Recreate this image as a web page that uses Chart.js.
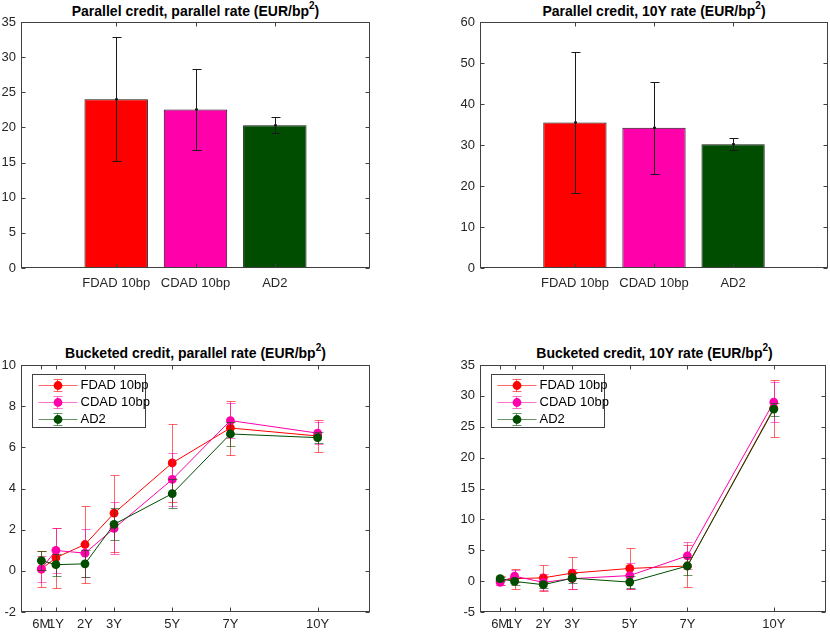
<!DOCTYPE html>
<html><head><meta charset="utf-8">
<script src="https://cdn.jsdelivr.net/npm/chart.js@4.4.1/dist/chart.umd.min.js"></script>
<style>
html,body{margin:0;padding:0;background:#fff;width:830px;height:632px;overflow:hidden}
canvas{position:absolute}
.t{position:absolute;font:bold 14px "Liberation Sans",Arial,sans-serif;color:#000;text-align:center;height:22px;line-height:22px;white-space:nowrap}
.t sup{font-size:10px;line-height:0;position:relative;top:-1px}
</style></head><body>
<div class="t" style="left:21px;top:0;width:349px">Parallel credit, parallel rate (EUR/bp<sup>2</sup>)</div>
<div class="t" style="left:480px;top:0;width:348px">Parallel credit, 10Y rate (EUR/bp<sup>2</sup>)</div>
<div class="t" style="left:21px;top:342px;width:349px">Bucketed credit, parallel rate (EUR/bp<sup>2</sup>)</div>
<div class="t" style="left:480px;top:342px;width:349px">Bucketed credit, 10Y rate (EUR/bp<sup>2</sup>)</div>
<canvas id="c1" width="415" height="316" style="left:0;top:0"></canvas>
<canvas id="c2" width="415" height="316" style="left:415px;top:0"></canvas>
<canvas id="c3" width="415" height="316" style="left:0;top:316px"></canvas>
<canvas id="c4" width="415" height="316" style="left:415px;top:316px"></canvas>
<script>
// ---- data ----
const seriesNames = ['FDAD 10bp', 'CDAD 10bp', 'AD2'];
const seriesColors = ['#ff0000', '#ff00aa', '#004d00'];
const errColors = ['rgba(255,0,0,0.6)', 'rgba(255,0,170,0.55)', 'rgba(0,77,0,0.6)'];

const parParVals = [24.0, 22.55, 20.3];
const parParErrs = [8.8, 5.8, 1.15];
const par10Vals = [35.5, 34.2, 30.2];
const par10Errs = [17.15, 11.25, 1.45];

const tenorLabels = ['6M', '1Y', '2Y', '3Y', '5Y', '7Y', '10Y'];
const tenorYears = [0.5, 1, 2, 3, 5, 7, 10];

const bpFDAD = [0.08, 0.64, 1.28, 2.8, 5.24, 6.94, 6.55];
const bpFDADErr = [0.88, 1.45, 1.85, 1.87, 1.9, 1.33, 0.79];
const bpCDAD = [0.1, 0.99, 0.86, 2.06, 4.44, 7.3, 6.69];
const bpCDADErr = [0.64, 1.08, 1.17, 1.26, 1.28, 0.87, 0.53];
const bpAD2 = [0.5, 0.3, 0.34, 2.26, 3.75, 6.65, 6.47];
const bpAD2Err = [0.44, 0.54, 0.65, 0.78, 0.7, 0.58, 0.27];

const b10FDAD = [0.1, 0.4, 0.53, 1.3, 2.05, 2.45, 28.0];
const b10FDADErr = [0.7, 1.6, 2.07, 2.6, 3.25, 3.4, 4.6];
const b10CDAD = [-0.2, 0.8, -0.2, 0.4, 0.9, 4.1, 29.0];
const b10CDADErr = [0.5, 1.0, 1.3, 1.6, 2.1, 2.2, 3.2];
const b10AD2 = [0.4, -0.05, -0.58, 0.48, -0.16, 2.45, 27.84];
const b10AD2Err = [0.3, 0.5, 0.5, 0.8, 1.0, 1.4, 1.03];

// ---- helpers ----
const FONT = {family: '"Liberation Sans", Arial, sans-serif', size: 13};
const TICKCOL = '#262626';
const FRAME = '#404040';

function drawErr(chart, k, opts) {
  const errs = opts.errors && opts.errors[k];
  if (!errs) return;
  const meta = chart.getDatasetMeta(k);
  const ys = chart.scales.y;
  const ds = chart.data.datasets[k];
  const ctx = chart.ctx;
  ctx.save();
  ctx.strokeStyle = opts.colors[k];
  ctx.lineWidth = 1;
  meta.data.forEach((el, i) => {
    const v = ds.data[i].y, e = errs[i];
    const x = Math.round(el.x) + 0.5;
    const yh = Math.round(ys.getPixelForValue(v + e)) + 0.5;
    const yl = Math.round(ys.getPixelForValue(v - e)) + 0.5;
    ctx.beginPath();
    ctx.moveTo(x, yh); ctx.lineTo(x, yl);
    ctx.moveTo(x - opts.cap, yh); ctx.lineTo(x + opts.cap + 1, yh);
    ctx.moveTo(x - opts.cap, yl); ctx.lineTo(x + opts.cap + 1, yl);
    ctx.stroke();
    if (opts.dot) {
      ctx.fillStyle = opts.colors[k];
      ctx.fillRect(x - 1.5, ys.getPixelForValue(v) - 1, 3, 2);
    }
  });
  ctx.restore();
}
const errPlugin = {
  id: 'errbars',
  beforeDatasetDraw(chart, args, opts) { if (!opts.after) drawErr(chart, args.index, opts); },
  afterDatasetDraw(chart, args, opts) { if (opts.after) drawErr(chart, args.index, opts); }
};
const framePlugin = {
  id: 'frame',
  afterDraw(chart, args, opts) {
    const ctx = chart.ctx, ca = chart.chartArea;
    const L = Math.round(ca.left) + 0.5, R = Math.round(ca.right) - 0.5;
    const T = Math.round(ca.top) + 0.5, B = Math.round(ca.bottom) - 0.5;
    ctx.save();
    ctx.strokeStyle = FRAME; ctx.lineWidth = 1;
    ctx.beginPath();
    chart.scales.y.ticks.forEach(t => {
      const y = Math.round(chart.scales.y.getPixelForValue(t.value)) + 0.5;
      ctx.moveTo(L, y); ctx.lineTo(L + 4, y);
      ctx.moveTo(R, y); ctx.lineTo(R - 4, y);
    });
    chart.scales.x.ticks.forEach(t => {
      const x = Math.round(chart.scales.x.getPixelForValue(t.value)) + 0.5;
      ctx.moveTo(x, B); ctx.lineTo(x, B - 4);
      ctx.moveTo(x, T); ctx.lineTo(x, T + 4);
    });
    ctx.stroke();
    ctx.strokeRect(L, T, R - L, B - T);
    if (opts.legend) {
      const lx = Math.round(ca.left + 11) + 0.5, ly = Math.round(ca.top + 9) + 0.5, w = 113, h = 53;
      ctx.fillStyle = '#fff'; ctx.fillRect(lx, ly, w, h);
      ctx.strokeStyle = FRAME; ctx.strokeRect(lx, ly, w, h);
      chart.data.datasets.forEach((ds, k) => {
        const y = Math.round(ly + 10.5 + k * 17) + 0.5;
        const mx = lx + 25;
        ctx.strokeStyle = errColors[k];
        ctx.beginPath();
        ctx.moveTo(lx + 6, y); ctx.lineTo(lx + 45, y);
        ctx.moveTo(mx, y - 6); ctx.lineTo(mx, y + 6);
        ctx.moveTo(mx - 4, y - 6); ctx.lineTo(mx + 5, y - 6);
        ctx.moveTo(mx - 4, y + 6); ctx.lineTo(mx + 5, y + 6);
        ctx.stroke();
        ctx.fillStyle = ds.borderColor;
        ctx.beginPath(); ctx.arc(mx + 0.5, y, 4.4, 0, Math.PI * 2); ctx.fill();
        ctx.fillStyle = '#000';
        ctx.font = '13px "Liberation Sans", Arial, sans-serif';
        ctx.textBaseline = 'middle'; ctx.textAlign = 'left';
        ctx.fillText(ds.label, lx + 48, y);
      });
    }
    ctx.restore();
  }
};

function yAxis(min, max, step, width) {
  return {
    min: min, max: max,
    ticks: {stepSize: step, padding: 5, color: TICKCOL, font: FONT},
    grid: {display: false, drawTicks: false},
    border: {display: false},
    afterFit: s => { s.width = width; }
  };
}

function barChart(id, vals, errs, yMax, yStep, yW, padRight) {
  return new Chart(document.getElementById(id), {
    type: 'bar',
    data: {
      datasets: [{
        data: vals.map((v, i) => ({x: i + 1, y: v})),
        backgroundColor: seriesColors,
        borderColor: '#141414',
        borderWidth: 1,
        borderSkipped: false,
        barPercentage: 1,
        categoryPercentage: 0.8
      }]
    },
    options: {
      responsive: false, animation: false, devicePixelRatio: 1,
      layout: {padding: {left: 0, top: 22, right: padRight, bottom: 0}},
      plugins: {
        legend: {display: false}, tooltip: {enabled: false}, title: {display: false},
        errbars: {errors: [errs], colors: ['#1a1a1a'], cap: 4, after: true, dot: true},
        frame: {legend: false}
      },
      scales: {
        x: {
          type: 'linear', min: -0.2, max: 4.2, offset: false,
          grid: {display: false, drawTicks: false, offset: false},
          border: {display: false},
          afterBuildTicks: s => { s.ticks = seriesNames.map((_, i) => ({value: i + 1})); },
          ticks: {callback: v => seriesNames[Math.round(v) - 1], autoSkip: false, maxRotation: 0, minRotation: 0,
                  padding: 8, color: TICKCOL, font: FONT},
          afterFit: s => { s.height = 48; }
        },
        y: yAxis(0, yMax, yStep, yW)
      }
    },
    plugins: [errPlugin, framePlugin]
  });
}

function lineChart(id, vals, errs, yMin, yMax, yStep, yW, padRight) {
  return new Chart(document.getElementById(id), {
    type: 'line',
    data: {
      datasets: seriesNames.map((n, k) => ({
        label: n,
        data: tenorYears.map((x, i) => ({x: x, y: vals[k][i]})),
        borderColor: seriesColors[k],
        backgroundColor: seriesColors[k],
        pointBackgroundColor: seriesColors[k],
        borderWidth: 1,
        pointRadius: 4.4, pointBorderWidth: 0, pointHoverRadius: 4.4,
        tension: 0, fill: false,
        order: 2 - k
      }))
    },
    options: {
      responsive: false, animation: false, devicePixelRatio: 1,
      layout: {padding: {left: 0, top: 49, right: padRight, bottom: 0}},
      plugins: {
        legend: {display: false}, tooltip: {enabled: false}, title: {display: false},
        errbars: {errors: errs, colors: errColors, cap: 4, after: false},
        frame: {legend: true}
      },
      scales: {
        x: {
          type: 'linear', min: -0.2, max: 11.8,
          grid: {display: false, drawTicks: false},
          border: {display: false},
          afterBuildTicks: s => { s.ticks = tenorYears.map(v => ({value: v})); },
          ticks: {callback: v => tenorLabels[tenorYears.indexOf(v)], autoSkip: false, maxRotation: 0, minRotation: 0,
                  padding: 5, color: TICKCOL, font: FONT},
          afterFit: s => { s.height = 20; }
        },
        y: yAxis(yMin, yMax, yStep, yW)
      }
    },
    plugins: [errPlugin, framePlugin]
  });
}

barChart('c1', parParVals, parParErrs, 35, 5, 21, 45);
barChart('c2', par10Vals, par10Errs, 60, 10, 65, 2);
lineChart('c3', [bpFDAD, bpCDAD, bpAD2], [bpFDADErr, bpCDADErr, bpAD2Err], -2, 10, 2, 21, 45);
lineChart('c4', [b10FDAD, b10CDAD, b10AD2], [b10FDADErr, b10CDADErr, b10AD2Err], -5, 35, 5, 65, 1);
</script>
</body></html>
